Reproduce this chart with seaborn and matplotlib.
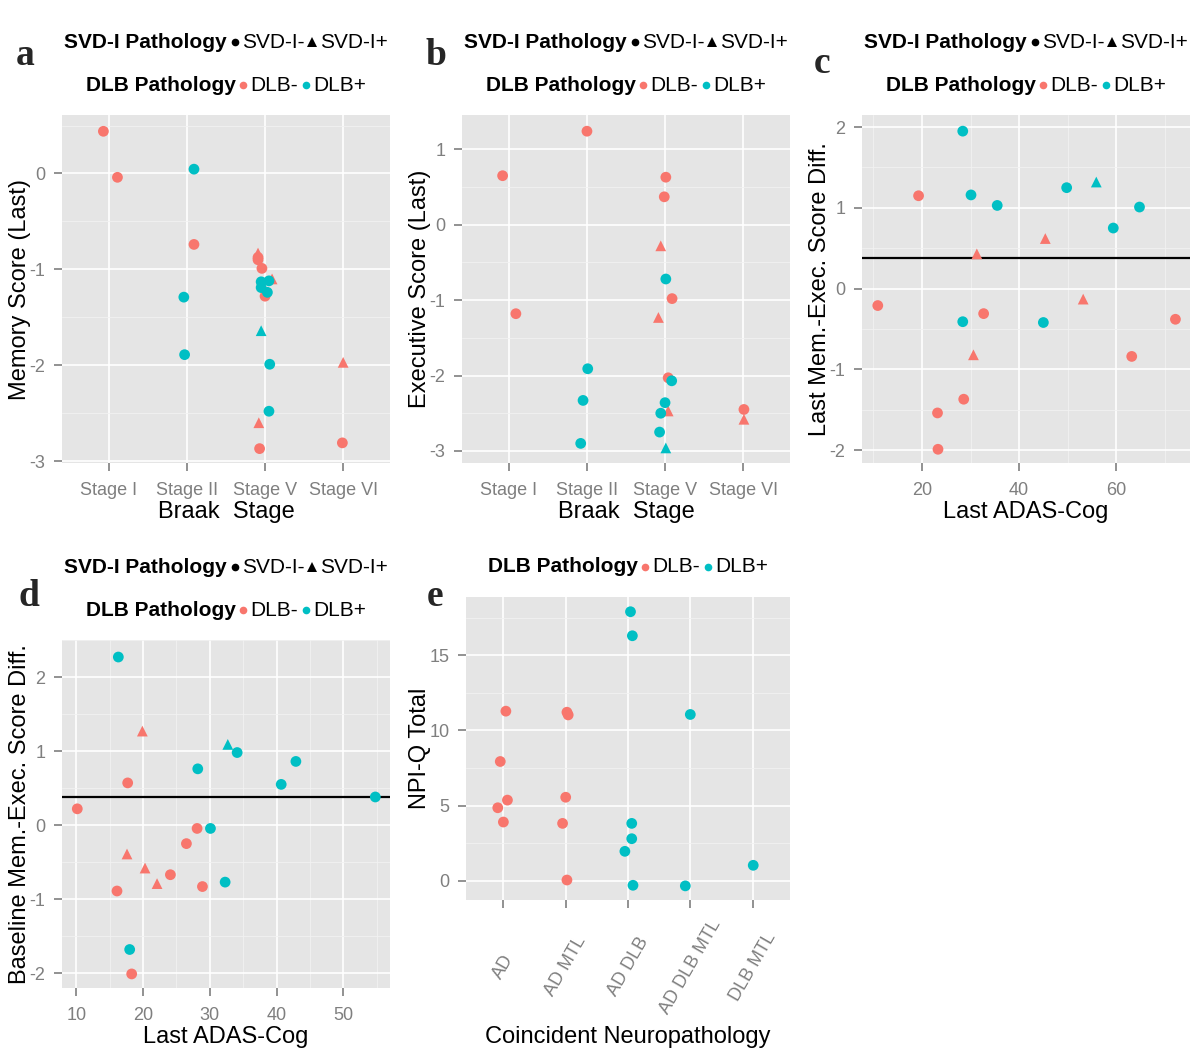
import pandas as pd
import matplotlib
matplotlib.use("Agg")
import matplotlib.pyplot as plt
import seaborn as sns
from matplotlib.ticker import MultipleLocator, NullLocator
from matplotlib.lines import Line2D
from matplotlib.offsetbox import TextArea, DrawingArea, HPacker, AnchoredOffsetbox

RED = "#F8766D"
CYAN = "#00BFC4"
GREY_TXT = "#7F7F7F"

# ---- panel a: memory score by Braak stage ----
stages = ["Stage I", "Stage II", "Stage V", "Stage VI"]
a_stage = [0, 0, 1, 1, 1, 1, 2, 2, 2, 2, 2, 2, 2, 2, 2, 2, 2, 2, 2, 2, 2, 3, 3]
a_jit = [-0.07, 0.11, 0.09, 0.09, -0.04, -0.03, -0.09, -0.09, -0.09, -0.04, 0.09,
         -0.05, 0.05, -0.05, 0.03, 0.0, -0.05, 0.06, 0.05, -0.08, -0.07, 0.0, -0.01]
a_mem = [0.44, -0.04, 0.045, -0.74, -1.29, -1.89, -0.83, -0.875, -0.90, -0.99, -1.10,
         -1.13, -1.12, -1.19, -1.24, -1.28, -1.64, -1.99, -2.48, -2.60, -2.87, -1.97, -2.81]
a_dlb = ["-", "-", "+", "-", "+", "+", "-", "-", "-", "-", "-",
         "+", "+", "+", "+", "-", "+", "+", "+", "-", "-", "-", "-"]
a_svd = ["-", "-", "-", "-", "-", "-", "+", "-", "-", "-", "+",
         "-", "-", "-", "-", "-", "+", "-", "-", "+", "-", "+", "-"]

# ---- panel b: executive score by Braak stage ----
b_stage = [0, 0, 1, 1, 1, 1, 2, 2, 2, 2, 2, 2, 2, 2, 2, 2, 2, 2, 2, 3, 3]
b_jit = [-0.08, 0.09, 0.0, 0.01, -0.05, -0.08, 0.01, -0.01, -0.055, 0.01, 0.09,
         -0.085, 0.04, 0.085, 0.0, -0.055, 0.04, -0.07, 0.01, 0.01, 0.01]
b_exec = [0.65, -1.18, 1.24, -1.91, -2.33, -2.90, 0.63, 0.37, -0.28, -0.72, -0.98,
          -1.23, -2.03, -2.07, -2.36, -2.50, -2.47, -2.75, -2.96, -2.45, -2.58]
b_dlb = ["-", "-", "-", "+", "+", "+", "-", "-", "-", "+", "-",
         "-", "-", "+", "+", "+", "-", "+", "+", "-", "-"]
b_svd = ["-", "-", "-", "-", "-", "-", "-", "-", "+", "-", "-",
         "+", "-", "-", "-", "-", "+", "-", "+", "-", "+"]

# ---- panel c: last mem-exec difference vs last ADAS-Cog ----
c_adas = [28.4, 19.3, 30.1, 35.5, 49.8, 55.9, 64.8, 59.4, 45.4, 31.3, 10.9,
          32.7, 28.4, 45.0, 53.2, 72.2, 30.6, 63.2, 28.6, 23.2, 23.3]
c_diff = [1.95, 1.15, 1.16, 1.03, 1.25, 1.32, 1.01, 0.75, 0.62, 0.43, -0.21,
          -0.31, -0.41, -0.42, -0.13, -0.38, -0.82, -0.84, -1.37, -1.54, -1.99]
c_dlb = ["+", "-", "+", "+", "+", "+", "+", "+", "-", "-", "-",
         "-", "+", "+", "-", "-", "-", "-", "-", "-", "-"]
c_svd = ["-", "-", "-", "-", "-", "+", "-", "-", "+", "+", "-",
         "-", "-", "-", "+", "-", "+", "-", "-", "-", "-"]
c_ref = 0.38

# ---- panel d: baseline mem-exec difference vs last ADAS-Cog ----
d_adas = [16.3, 19.9, 32.7, 34.1, 28.2, 42.9, 17.7, 40.7, 54.8, 10.15, 28.1,
          30.1, 26.5, 17.6, 20.3, 24.1, 22.1, 32.3, 28.9, 16.1, 18.0, 18.3]
d_diff = [2.27, 1.27, 1.09, 0.98, 0.76, 0.86, 0.57, 0.55, 0.38, 0.22, -0.045,
          -0.045, -0.25, -0.39, -0.58, -0.67, -0.79, -0.77, -0.83, -0.89, -1.68, -2.01]
d_dlb = ["+", "-", "+", "+", "+", "+", "-", "+", "+", "-", "-",
         "+", "-", "-", "-", "-", "-", "+", "-", "-", "+", "-"]
d_svd = ["-", "+", "+", "-", "-", "-", "-", "-", "-", "-", "-",
         "-", "-", "+", "+", "-", "+", "-", "-", "-", "-", "-"]
d_ref = 0.38

# ---- panel e: NPI-Q total by coincident neuropathology ----
groups = ["AD", "AD MTL", "AD DLB", "AD DLB MTL", "DLB MTL"]
e_group = [0, 0, 0, 0, 0, 1, 1, 1, 1, 1, 2, 2, 2, 2, 2, 2, 3, 3, 4]
e_jit = [0.04, -0.05, 0.065, -0.09, 0.0, 0.02, 0.04, 0.0, -0.05, 0.02,
         0.04, 0.07, 0.06, 0.06, -0.05, 0.08, 0.0, -0.08, 0.01]
e_npi = [11.28, 7.93, 5.36, 4.85, 3.9, 11.21, 11.03, 5.55, 3.81, 0.04,
         17.9, 16.3, 3.81, 2.79, 1.95, -0.31, 11.06, -0.35, 1.02]
e_dlb = ["-"] * 10 + ["+"] * 9


sns.set_theme(style="darkgrid")
plt.rcParams["font.family"] = ["Liberation Sans", "DejaVu Sans"]
plt.rcParams["axes.unicode_minus"] = False
plt.rcParams["axes.facecolor"] = "#E5E5E5"

W, H = 1200, 1050
fig = plt.figure(figsize=(W / 100, H / 100), dpi=100)
fig.patch.set_facecolor("white")


def px_rect(l, t, r, b):
    return [l / W, 1 - b / H, (r - l) / W, (b - t) / H]


def make_df(x, y, dlb, svd=None):
    df = pd.DataFrame({"x": x, "y": y,
                       "dlb": ["DLB" + s for s in dlb]})
    df["svd"] = ["SVD-I" + s for s in (svd if svd else ["-"] * len(x))]
    # red points first, cyan on top (as in the original)
    return df.sort_values("dlb", kind="stable", key=lambda s: s.map({"DLB-": 0, "DLB+": 1}))


def scatter(ax, df):
    sns.scatterplot(data=df, x="x", y="y", hue="dlb", hue_order=["DLB-", "DLB+"],
                    palette=[RED, CYAN], style="svd", style_order=["SVD-I-", "SVD-I+"],
                    markers=["o", "^"], s=60, linewidth=0, legend=False, ax=ax, zorder=3)


def style_axes(ax, xlabel, ylabel, xpad=3):
    for sp in ax.spines.values():
        sp.set_visible(False)
    ax.grid(which="major", color="white", lw=1.2)
    ax.grid(which="minor", color="#F2F2F2", lw=0.6)
    ax.tick_params(which="major", length=6, width=1.2, color=GREY_TXT,
                   labelcolor=GREY_TXT, labelsize=13, pad=6,
                   bottom=True, left=True)
    ax.tick_params(axis="x", pad=8)
    ax.tick_params(which="minor", length=0)
    ax.set_xlabel(xlabel, fontsize=17, color="black", labelpad=xpad)
    ax.set_ylabel(ylabel, fontsize=17, color="black", labelpad=-1)
    ax.set_axisbelow(True)


def legend_row(ax, y, title, items):
    kids = [TextArea(title, textprops=dict(fontsize=15, fontweight="bold", color="black"))]
    for marker, color, label in items:
        da = DrawingArea(8, 9, 0, 0)
        da.add_artist(Line2D([4], [4.8], marker=marker, color=color,
                             ms=5.5 if marker == "o" else 7,
                             linestyle="none", markeredgewidth=0))
        kids.append(da)
        kids.append(TextArea(label, textprops=dict(fontsize=15, color="black")))
    box = HPacker(children=kids, sep=1.5, align="center", pad=0)
    anc = AnchoredOffsetbox(loc="center", child=box, bbox_to_anchor=(0.5, y),
                            bbox_transform=ax.transAxes, frameon=False, pad=0, borderpad=0)
    ax.add_artist(anc)


def both_legends(ax, height_px):
    legend_row(ax, 1 + 73 / height_px, "SVD-I Pathology",
               [("o", "black", "SVD-I-"), ("^", "black", "SVD-I+")])
    legend_row(ax, 1 + 30 / height_px, "DLB Pathology",
               [("o", RED, "DLB-"), ("o", CYAN, "DLB+")])


def categorical(ax, cats, idx, jit):
    ax.set_xticks(range(len(cats)))
    ax.set_xticklabels(cats)
    ax.set_xlim(-0.6, len(cats) - 0.4)
    ax.xaxis.set_minor_locator(NullLocator())
    return [i + j for i, j in zip(idx, jit)]


# panel a
ax = fig.add_axes(px_rect(62, 115, 390, 463))
scatter(ax, make_df(categorical(ax, stages, a_stage, a_jit), a_mem, a_dlb, a_svd))
ax.set_ylim(-3.02, 0.61)
ax.yaxis.set_major_locator(MultipleLocator(1))
ax.yaxis.set_minor_locator(MultipleLocator(0.5))
style_axes(ax, "Braak  Stage", "Memory Score (Last)", xpad=1)
both_legends(ax, 348)

# panel b
ax = fig.add_axes(px_rect(462, 115, 790, 463))
scatter(ax, make_df(categorical(ax, stages, b_stage, b_jit), b_exec, b_dlb, b_svd))
ax.set_ylim(-3.16, 1.455)
ax.yaxis.set_major_locator(MultipleLocator(1))
ax.yaxis.set_minor_locator(MultipleLocator(0.5))
style_axes(ax, "Braak  Stage", "Executive Score (Last)", xpad=1)
both_legends(ax, 348)

# panel c
ax = fig.add_axes(px_rect(862, 115, 1190, 463))
scatter(ax, make_df(c_adas, c_diff, c_dlb, c_svd))
ax.axhline(c_ref, color="black", lw=1.6, zorder=2)
ax.set_xlim(7.65, 75.2)
ax.set_ylim(-2.16, 2.15)
ax.xaxis.set_major_locator(MultipleLocator(20))
ax.xaxis.set_minor_locator(MultipleLocator(10))
ax.yaxis.set_major_locator(MultipleLocator(1))
ax.yaxis.set_minor_locator(MultipleLocator(0.5))
style_axes(ax, "Last ADAS-Cog", "Last Mem.-Exec. Score Diff.", xpad=1)
both_legends(ax, 348)

# panel d
ax = fig.add_axes(px_rect(62, 640, 390, 988))
scatter(ax, make_df(d_adas, d_diff, d_dlb, d_svd))
ax.axhline(d_ref, color="black", lw=1.6, zorder=2)
ax.set_xlim(7.86, 57.0)
ax.set_ylim(-2.2, 2.5)
ax.xaxis.set_major_locator(MultipleLocator(10))
ax.xaxis.set_minor_locator(MultipleLocator(5))
ax.yaxis.set_major_locator(MultipleLocator(1))
ax.yaxis.set_minor_locator(MultipleLocator(0.5))
style_axes(ax, "Last ADAS-Cog", "Baseline Mem.-Exec. Score Diff.", xpad=1)
both_legends(ax, 348)

# panel e
ax = fig.add_axes(px_rect(466, 597, 790, 900))
scatter(ax, make_df(categorical(ax, groups, e_group, e_jit), e_npi, e_dlb))
ax.set_ylim(-1.29, 18.88)
ax.yaxis.set_major_locator(MultipleLocator(5))
ax.yaxis.set_minor_locator(MultipleLocator(2.5))
style_axes(ax, "Coincident Neuropathology", "NPI-Q Total", xpad=7)
for lab in ax.get_xticklabels():
    lab.set_rotation(60)
    lab.set_rotation_mode("anchor")
    lab.set_ha("center")
    lab.set_va("center")
ax.tick_params(axis="x", pad=42)
legend_row(ax, 1 + 30 / 303, "DLB Pathology",
           [("o", RED, "DLB-"), ("o", CYAN, "DLB+")])

# panel letters
for letter, x, y in [("a", 16, 65), ("b", 426, 65), ("c", 814, 73),
                     ("d", 18, 606), ("e", 427, 606)]:
    fig.text(x / W, 1 - y / H, letter, fontsize=27, fontweight="bold",
             family="Liberation Serif", va="baseline", ha="left")

fig.savefig("out.png", dpi=100)
